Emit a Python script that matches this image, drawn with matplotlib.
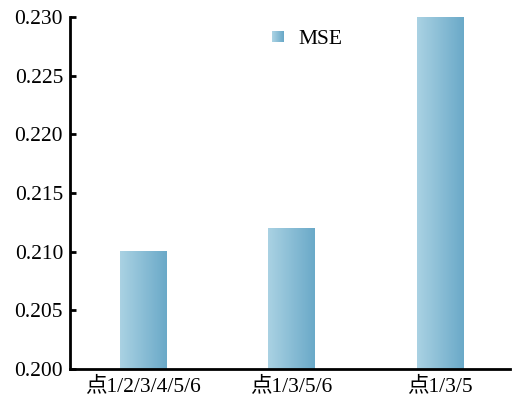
import numpy as np
import matplotlib.pyplot as plt
from matplotlib.colors import LinearSegmentedColormap
from matplotlib.legend_handler import HandlerBase
from matplotlib.patches import Rectangle

labels = ['点1/2/3/4/5/6', '点1/3/5/6', '点1/3/5']
mse = [0.210, 0.212, 0.230]

plt.rcParams['font.family'] = ['Liberation Serif', 'Noto Sans CJK SC']
plt.rcParams['font.size'] = 15.5

cmap = LinearSegmentedColormap.from_list('bar', ['#aad2e3', '#6aa9c8'])
width = 0.31
grad = np.linspace(0, 1, 256).reshape(1, -1)


class GradHandler(HandlerBase):
    # legend key drawn as thin vertical strips so it fades like the bars
    def create_artists(self, legend, orig, xd, yd, w, h, fontsize, trans):
        n = 12
        side = 0.75 * h
        y0 = yd + (h - side) / 2
        arts = []
        for i in range(n):
            r = Rectangle((xd + i * side / n, y0), side / n, side,
                          facecolor=cmap(i / (n - 1)), edgecolor='none',
                          transform=trans)
            arts.append(r)
        return arts


fig = plt.figure(figsize=(5.13, 4.04), dpi=100)
ax = fig.add_axes([70 / 513, 35 / 404, 440 / 513, 352 / 404])

x = np.arange(len(labels))
bars = ax.bar(x, mse, width=width, color='none', edgecolor='none', label='MSE')
for xi, v in zip(x, mse):
    ax.imshow(grad, cmap=cmap, aspect='auto', interpolation='bilinear',
              extent=(xi - width / 2, xi + width / 2, 0.200, v), zorder=2)

ax.set_xlim(-0.49, 2.47)
ax.set_ylim(0.200, 0.230)
ax.set_yticks(np.arange(0.200, 0.2301, 0.005))
ax.yaxis.set_major_formatter(plt.FormatStrFormatter('%.3f'))
ax.set_xticks(x)
ax.set_xticklabels(labels)
ax.tick_params(axis='y', direction='in', length=4, width=2, pad=5)
ax.tick_params(axis='x', length=0, pad=5)
for s in ['top', 'right']:
    ax.spines[s].set_visible(False)
for s in ['left', 'bottom']:
    ax.spines[s].set_linewidth(2)

ax.legend(handles=[bars], labels=['MSE'], handler_map={type(bars): GradHandler()},
          loc='upper left', bbox_to_anchor=(0.44, 0.99), frameon=False,
          handlelength=0.8, handletextpad=0.4, borderaxespad=0)

fig.savefig('out.png', dpi=100)
